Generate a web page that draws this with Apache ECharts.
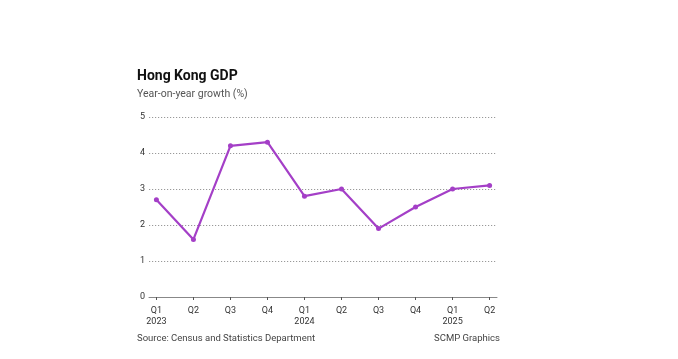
<!DOCTYPE html>
<html><head><meta charset="utf-8">
<script src="https://cdn.jsdelivr.net/npm/echarts@6/dist/echarts.min.js"></script>
<style>html,body{margin:0;padding:0;background:#fff;}#c{width:678px;height:359px;}</style>
</head><body><div id="c"></div>
<script>
var quarters = ['Q1','Q2','Q3','Q4','Q1','Q2','Q3','Q4','Q1','Q2'];
var years = ['2023','','','','2024','','','','2025',''];
var gdpGrowth = [2.7, 1.6, 4.2, 4.3, 2.8, 3.0, 1.9, 2.5, 3.0, 3.1];
var yTicks = [0, 1, 2, 3, 4, 5];

var idx = quarters.map(function(_, i){ return i; });
var chart = echarts.init(document.getElementById('c'), null, {renderer:'canvas'});
var font = 'Roboto, "Noto Sans", Arial, sans-serif';
chart.setOption({
  animation: false,
  backgroundColor: '#fff',
  title: [
    {text: 'Hong Kong GDP', left: 132, top: 64, textStyle:{fontFamily: font, fontWeight:'bold', fontSize:14, color:'#111'}},
    {text: 'Year-on-year growth (%)', left: 132, top: 84, textStyle:{fontFamily: font, fontWeight:'normal', fontSize:10.5, color:'#555'}},
    {text: 'Source: Census and Statistics Department', left: 132, top: 329, textStyle:{fontFamily: font, fontWeight:'normal', fontSize:9.5, color:'#444'}},
    {text: 'SCMP Graphics', right: 173, top: 329, textStyle:{fontFamily: font, fontWeight:'normal', fontSize:9.5, color:'#444'}}
  ],
  grid: {left: 149, right: 181, top: 117, bottom: 62, containLabel: false},
  xAxis: {
    type: 'value', min: -0.2, max: 9.2,
    axisLine: {show: true, lineStyle:{color:'#888', width:1}},
    axisTick: {show: true, customValues: idx, length: 3, lineStyle:{color:'#555'}},
    axisLabel: {customValues: idx, margin: 8, fontFamily: font, fontSize: 9, color:'#333', lineHeight: 11,
      formatter: function(v){ var i = Math.round(v); return years[i] ? quarters[i] + '\n' + years[i] : quarters[i]; },
      verticalAlign: 'top'},
    splitLine: {show: false}
  },
  yAxis: {
    type: 'value', min: 0, max: 5, interval: 1,
    axisLine: {show:false}, axisTick:{show:false},
    axisLabel: {margin: 4, fontFamily: font, fontSize: 9, color:'#333',
      customValues: yTicks},
    splitLine: {show: true, lineStyle: {color:'#999', type:[1.2,1.8], width:1}}
  },
  series: [{
    type: 'line',
    data: gdpGrowth.map(function(v, i){ return [i, v]; }),
    symbol: 'circle', symbolSize: 5,
    lineStyle: {color:'#a43fc7', width: 2.2},
    itemStyle: {color:'#a43fc7'}
  }]
});
</script></body></html>
